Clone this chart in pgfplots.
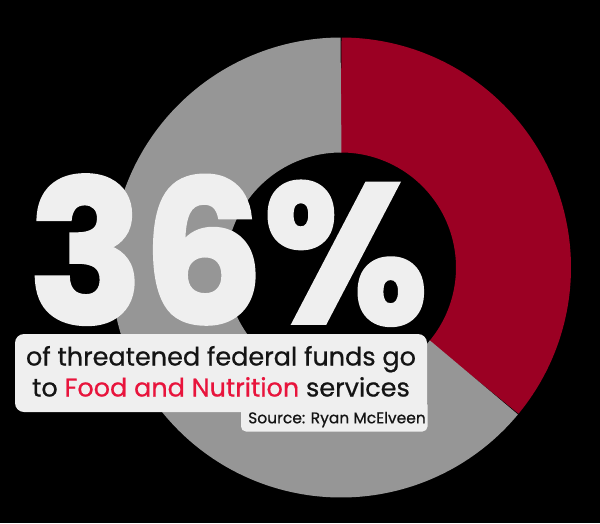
\documentclass[border=0pt]{standalone}
\usepackage{pgfplots}
\pgfplotsset{compat=1.18}
\usepackage{fontspec}
\setmainfont{Poppins}
\newfontfamily\bignum[BoldFeatures={FakeBold=2}]{Poppins}
\newfontfamily\medfont[UprightFeatures={FakeBold=0.7}]{Poppins}
\definecolor{donutred}{RGB}{155,0,35}
\definecolor{donutgray}{RGB}{150,150,150}
\definecolor{boxgray}{RGB}{239,239,239}
\definecolor{hotred}{RGB}{232,20,60}
\definecolor{ink}{RGB}{20,20,20}
% share of threatened federal funds (percent)
\def\shareFood{36}
\def\shareOther{64}
\begin{document}
\begin{tikzpicture}
\fill[black] (0,0) rectangle (600pt,523pt);
\begin{axis}[
  at={(0,0)}, anchor=south west,
  scale only axis, width=600pt, height=523pt,
  xmin=0, xmax=600, ymin=0, ymax=523,
  y dir=reverse, hide axis, clip=false,
]
% donut: centre (341,267.5), radii 115..230 -> mid 172.5, width 115
\pgfmathsetmacro{\aA}{-90}
\pgfmathsetmacro{\aB}{-90+3.6*\shareFood}
\pgfmathsetmacro{\aC}{\aB+3.6*\shareOther}
\addplot[donutred, line width=115pt, line cap=butt, line join=round,
  domain=\aA:\aB, samples=150, variable=\t]
  ({341+172.5*cos(\t)}, {267.5+172.5*sin(\t)});
\addplot[donutgray, line width=115pt, line cap=butt, line join=round,
  domain=\aB:\aC, samples=250, variable=\t]
  ({341+172.5*cos(\t)}, {267.5+172.5*sin(\t)});
% big number
\node[anchor=base west, inner sep=0pt, text=boxgray] at (axis cs:28.5,323)
  {\scalebox{0.955}[1]{\fontsize{198}{198}\bignum\bfseries 36\%}};
% boxes
\fill[boxgray, rounded corners=5pt] (axis cs:241,400) rectangle (axis cs:427.5,431.5);
\fill[boxgray, rounded corners=9pt] (axis cs:15,334) rectangle (axis cs:427,412);
\node[anchor=base, inner sep=0pt, text=ink, align=center,
  font=\fontsize{25.5}{31}\medfont] at (axis cs:221,396.5)
  {of threatened federal funds go\\to \textcolor{hotred}{Food and Nutrition} services};
\node[anchor=base west, inner sep=0pt, text=ink,
  font=\fontsize{15.5}{16}\medfont] at (axis cs:248,423.3) {Source: Ryan McElveen};
\end{axis}
\end{tikzpicture}
\end{document}
